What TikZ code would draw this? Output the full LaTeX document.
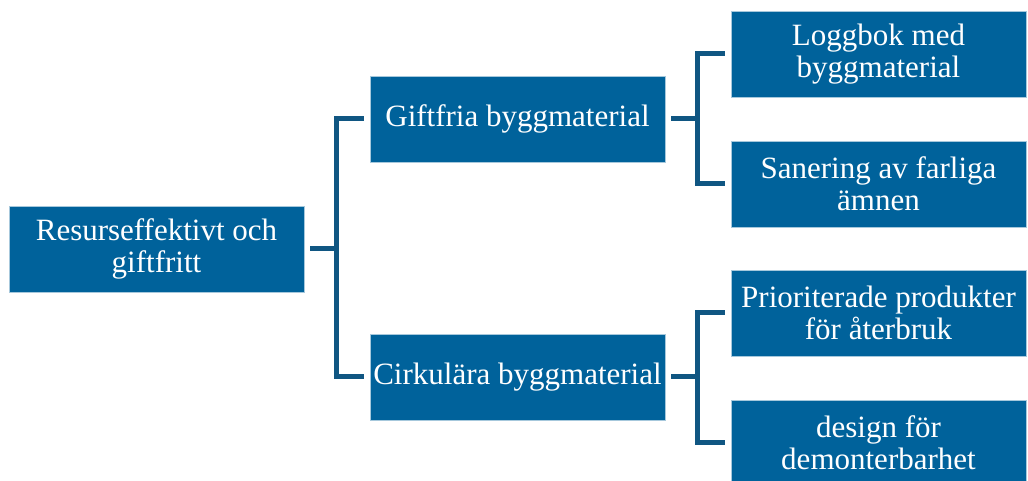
\documentclass[tikz,border=0pt]{standalone}
\usepackage{fontspec}
\setmainfont{Liberation Serif}
\usepackage{tikz}
\usetikzlibrary{calc,positioning}
\definecolor{boxblue}{RGB}{0,98,155}
\definecolor{linkblue}{RGB}{16,86,130}

\begin{document}
\begin{tikzpicture}[x=0.5pt,y=0.5pt,
  box/.style={rectangle, fill=boxblue, draw=white!65!boxblue, line width=0.4pt, minimum width=147.5pt, minimum height=43pt, inner sep=0pt, text=white, align=center, font=\fontsize{15.5}{15.8}\selectfont},
  link/.style={draw=linkblue, line width=2.5pt, line join=miter}]
  \useasboundingbox (0,0) rectangle (1028,481);
  \node [box] (r) at (156.5,232) {Resurseffektivt och\\giftfritt};
  \node [box] (m1) at (517.5,362) {Giftfria byggmaterial};
  \node [box] (m2) at (517.5,104) {Cirkulära byggmaterial};
  \node [box] (l1) at (878.5,427) {Loggbok med\\byggmaterial};
  \node [box] (l2) at (878.5,297) {Sanering av farliga\\ämnen};
  \node [box] (l3) at (878.5,168) {Prioriterade produkter\\för återbruk};
  \node [box] (l4) at (878.5,38) {design för\\demonterbarhet};
  \draw [link] ([xshift=3pt]r.east) -- ++(13pt,0) coordinate (rj);
  \draw [link] (rj) |- ([xshift=-3pt]m1.west);
  \draw [link] (rj) |- ([xshift=-3pt]m2.west);
  \draw [link] ([xshift=3pt]m1.east) -- ++(13pt,0) coordinate (j1);
  \draw [link] (j1) |- ([xshift=-3pt]l1.west);
  \draw [link] (j1) |- ([xshift=-3pt]l2.west);
  \draw [link] ([xshift=3pt]m2.east) -- ++(13pt,0) coordinate (j2);
  \draw [link] (j2) |- ([xshift=-3pt]l3.west);
  \draw [link] (j2) |- ([xshift=-3pt]l4.west);
\end{tikzpicture}
\end{document}
